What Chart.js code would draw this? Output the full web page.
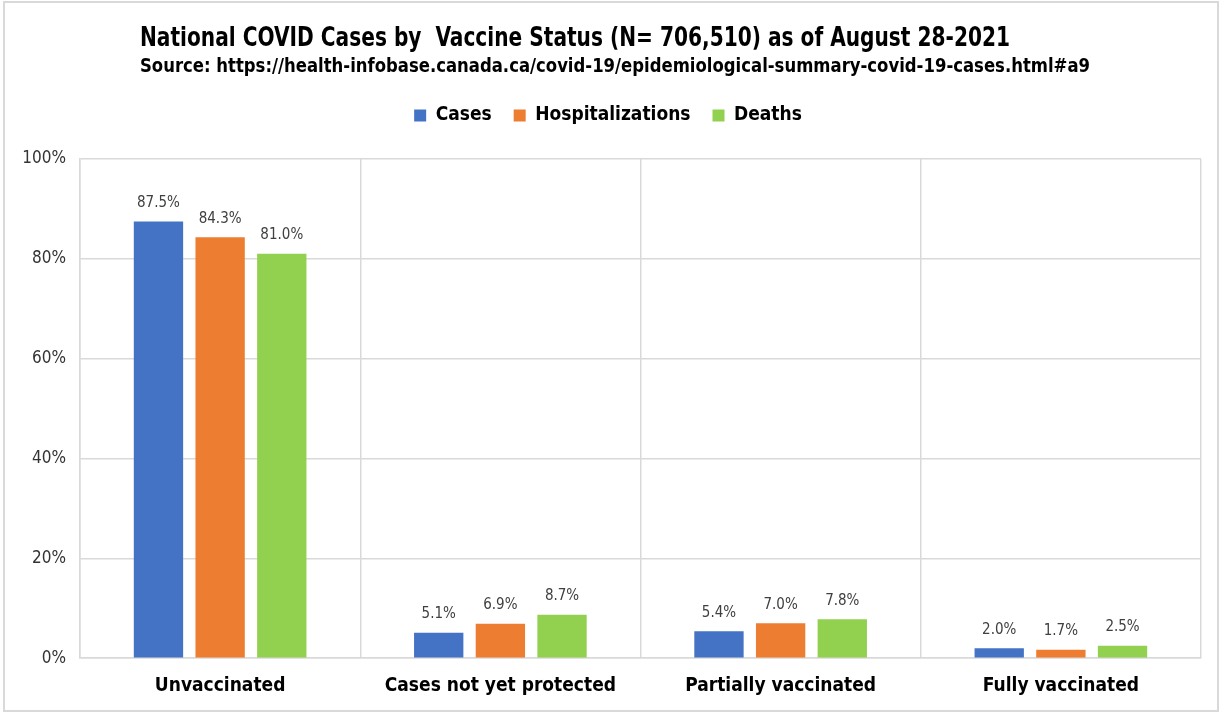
<!DOCTYPE html>
<html>
<head>
<meta charset="utf-8">
<script src="https://cdn.jsdelivr.net/npm/chart.js@4.4.0/dist/chart.umd.min.js"></script>
<style>
  body { margin: 0; background: #fff; }
  #wrap { position: absolute; left: 3px; top: 1px; width: 1216px; height: 711px; box-sizing: border-box; border: 2px solid #d9d9d9; }
  #plot { display: block; }
</style>
</head>
<body>
<div id="wrap"><canvas id="plot" width="1212" height="707"></canvas></div>
<script>
// values (percent)
let statuses = ["Unvaccinated", "Cases not yet protected", "Partially vaccinated", "Fully vaccinated"];
let cases = [87.5, 5.1, 5.4, 2.0];
let hospitalizations = [84.3, 6.9, 7.0, 1.7];
let deaths = [81.0, 8.7, 7.8, 2.5];
let seriesNames = ["Cases", "Hospitalizations", "Deaths"];
let seriesColors = ["#4472C4", "#ED7D31", "#92D050"];

let titleText = "National COVID Cases by  Vaccine Status (N= 706,510) as of August 28-2021";
let subtitleText = "Source: https://health-infobase.canada.ca/covid-19/epidemiological-summary-covid-19-cases.html#a9";

let fontName = "'DejaVu Sans Condensed', 'Roboto', sans-serif";

// draw a line of text squeezed to a given width (original uses a narrow font)
function squeezed(ctx, text, x, y, width) {
  let w = ctx.measureText(text).width;
  ctx.save();
  ctx.translate(x, y);
  ctx.scale(Math.min(1, width / w), 1);
  ctx.fillText(text, 0, 0);
  ctx.restore();
}

// title + source line, left aligned like the original
let headerPlugin = {
  id: "header",
  afterInit(chart) {
    // leave a bigger gap between the legend and the plot
    let fit = chart.legend.fit;
    chart.legend.fit = function () {
      fit.call(this);
      this.height += 24;
    };
  },
  afterDraw(chart) {
    let ctx = chart.ctx;
    ctx.save();
    ctx.fillStyle = "#000";
    ctx.textAlign = "left";
    ctx.textBaseline = "middle";
    ctx.font = "bold 27px " + fontName;
    squeezed(ctx, titleText, 135, 36, 870);
    ctx.font = "bold 19px " + fontName;
    squeezed(ctx, subtitleText, 135, 64, 950);
    ctx.restore();
  }
};

// value labels above each bar
let labelPlugin = {
  id: "barLabels",
  afterDatasetsDraw(chart) {
    let ctx = chart.ctx;
    ctx.save();
    ctx.fillStyle = "#404040";
    ctx.font = "15px " + fontName;
    ctx.textAlign = "center";
    ctx.textBaseline = "bottom";
    chart.data.datasets.forEach((ds, i) => {
      let meta = chart.getDatasetMeta(i);
      meta.data.forEach((bar, j) => {
        ctx.fillText(ds.data[j].toFixed(1) + "%", bar.x, bar.y - 11);
      });
    });
    ctx.restore();
  }
};

let datasets = [cases, hospitalizations, deaths].map((vals, i) => ({
  label: seriesNames[i],
  data: vals,
  backgroundColor: seriesColors[i],
  borderWidth: 0,
  categoryPercentage: 0.66,
  barPercentage: 0.8
}));

new Chart(document.getElementById("plot"), {
  type: "bar",
  data: { labels: statuses, datasets: datasets },
  plugins: [headerPlugin, labelPlugin],
  options: {
    responsive: false,
    animation: false,
    layout: { padding: { top: 81, left: 10, right: 16, bottom: -3 } },
    plugins: {
      tooltip: { enabled: false },
      legend: {
        position: "top",
        labels: {
          boxWidth: 12,
          boxHeight: 12,
          padding: 22,
          color: "#000",
          font: { family: fontName, size: 19, weight: "bold" }
        }
      }
    },
    scales: {
      x: {
        grid: { color: "#d9d9d9", lineWidth: 1.5, offset: true, drawTicks: false },
        border: { color: "#d9d9d9", width: 1.5 },
        ticks: { color: "#000", padding: 16, font: { family: fontName, size: 19, weight: "bold" } }
      },
      y: {
        min: 0,
        max: 100,
        ticks: {
          stepSize: 20,
          color: "#333",
          padding: 14,
          font: { family: fontName, size: 17 },
          callback: v => v + "%"
        },
        grid: { color: "#d9d9d9", lineWidth: 1.5, drawTicks: false },
        border: { color: "#d9d9d9", width: 1.5 },
        afterFit: axis => { axis.width = 65; }
      }
    }
  }
});
</script>
</body>
</html>
